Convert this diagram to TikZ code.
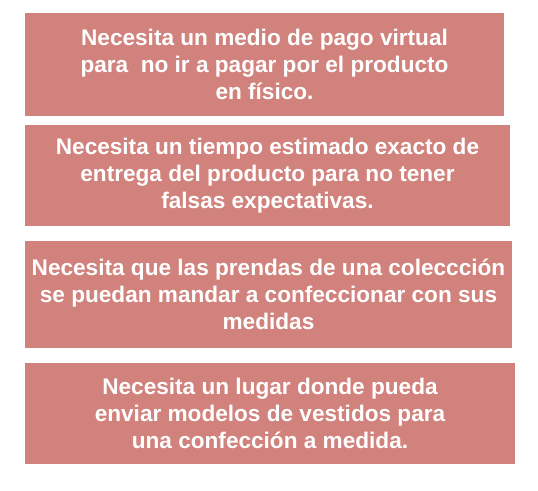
\documentclass[tikz,border=0pt]{standalone}
\usepackage{fontspec}
\setmainfont{Liberation Sans}
\definecolor{rosebox}{HTML}{D2827C}
\begin{document}
\begin{tikzpicture}[x=1pt,y=1pt,
  need/.style={rectangle, fill=rosebox, draw=none, inner sep=0pt, align=center,
    text=white, font=\bfseries\fontsize{22.6}{26.8}\selectfont}]
\useasboundingbox (0,0) rectangle (538,490);
\node [need, minimum width=479pt, minimum height=103pt] (pago) at (264.5,425.5) {Necesita un medio de pago virtual\\para \ no ir a pagar por el producto\\en físico.};
\node [need, minimum width=485pt, minimum height=101pt] (tiempo) at (267.5,314.5) {Necesita un tiempo estimado exacto de\\entrega del producto para no tener\\falsas expectativas.};
\node [need, minimum width=487pt, minimum height=107pt] (prendas) at (268.5,195.5) {Necesita que las prendas de una coleccción\\se puedan mandar a confeccionar con sus\\medidas};
\node [need, minimum width=490pt, minimum height=101pt] (lugar) at (270,76.5) {Necesita un lugar donde pueda\\enviar modelos de vestidos para\\una confección a medida.};
\end{tikzpicture}
\end{document}
